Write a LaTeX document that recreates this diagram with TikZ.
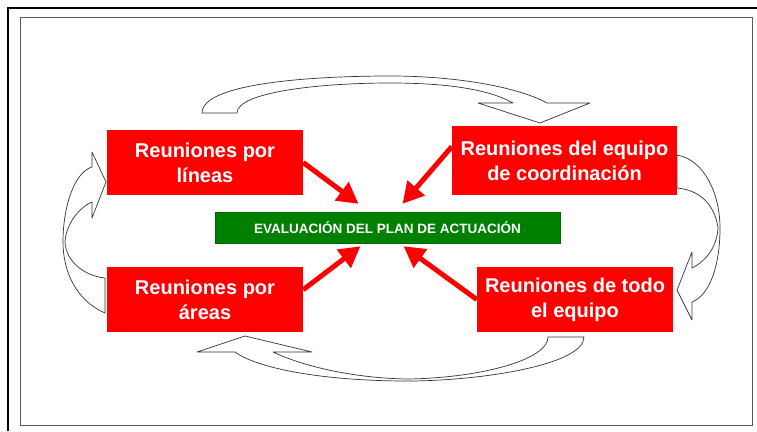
\documentclass[tikz,border=0pt]{standalone}
\usepackage{fontspec}
\setmainfont{Liberation Sans}
\usetikzlibrary{arrows.meta, positioning, calc}

\begin{document}
\begin{tikzpicture}[
    x=1pt, y=-1pt,
    redbox/.style={rectangle, fill=red, text=white, align=center, inner sep=0pt,
        minimum width=196pt, minimum height=65pt,
        font=\bfseries\fontsize{20}{25}\selectfont},
    evalbox/.style={rectangle, fill=green!50!black, draw=green!40!black, text=white,
        inner sep=0pt, minimum width=345pt, minimum height=31pt,
        font=\bfseries\fontsize{13.5}{15}\selectfont},
    redarrow/.style={draw=red, line width=5pt, -{Triangle[length=21pt, width=22pt]}},
    bentarrow/.style={draw=black!80, fill=white, line width=0.7pt, line join=round}
]
    \useasboundingbox (0,0) rectangle (757,431);
    % frame
    \draw[line width=2.5pt] (8,431) -- (8,8) -- (757,8);
    \draw[black!65, line width=1pt] (20,17) rectangle (752,425);

    % bent arrows round the boxes
    \draw[bentarrow] (202,113) .. controls (202,82) and (320,76) .. (390,76)
        .. controls (460,76) and (520,88) .. (547,103) -- (590,103) -- (540,123)
        -- (478,103) -- (513,103) .. controls (490,90) and (450,83) .. (390,83)
        .. controls (320,83) and (237,92) .. (237,113) -- cycle;
    \draw[bentarrow] (677,155) .. controls (705,160) and (720,195) .. (720,228)
        .. controls (720,265) and (710,295) .. (692,302) -- (692,320) -- (677,290)
        -- (692,252) -- (692,268) .. controls (708,260) and (717,245) .. (718,228)
        .. controls (715,205) and (700,190) .. (677,188) -- cycle;
    \draw[bentarrow] (584,337) .. controls (584,365) and (480,381) .. (407,381)
        .. controls (330,381) and (260,370) .. (235,352) -- (197,352) -- (245,336)
        -- (312,352) -- (273,352) .. controls (300,365) and (350,378) .. (407,379)
        .. controls (480,378) and (548,360) .. (548,337) -- cycle;
    \draw[bentarrow] (105,313) .. controls (75,300) and (63,270) .. (63,242)
        .. controls (63,205) and (75,172) .. (92,167) -- (92,152) -- (106,182)
        -- (92,218) -- (92,202) .. controls (78,208) and (66,225) .. (65,242)
        .. controls (66,262) and (85,276) .. (105,278) -- cycle;

    % boxes
    \node[evalbox] (eval) at (387.5,227.5) {EVALUACIÓN DEL PLAN DE ACTUACIÓN};
    \node[redbox] (lineas) at (205,162.5) {Reuniones por\\líneas};
    \node[redbox, minimum width=225pt, minimum height=69pt] (coord) at (564.5,160.5)
        {Reuniones del equipo\\de coordinación};
    \node[redbox] (areas) at (205,299.5) {Reuniones por\\áreas};
    \node[redbox] (equipo) at (575,299.5) {Reuniones de todo\\el equipo};

    % red arrows to the evaluation
    \coordinate (tl) at ($(eval.north)+(-29,-8)$);
    \coordinate (tr) at ($(eval.north)+(15,-8)$);
    \coordinate (bl) at ($(eval.south)+(-27,3)$);
    \coordinate (br) at ($(eval.south)+(16,3)$);
    \draw[redarrow] (lineas.east) -- (tl);
    \draw[redarrow] ($(coord.north west)!0.3!(coord.south west)$) -- (tr);
    \draw[redarrow] ($(areas.north east)!0.35!(areas.south east)$) -- (bl);
    \draw[redarrow] (equipo.west) -- (br);
\end{tikzpicture}
\end{document}
